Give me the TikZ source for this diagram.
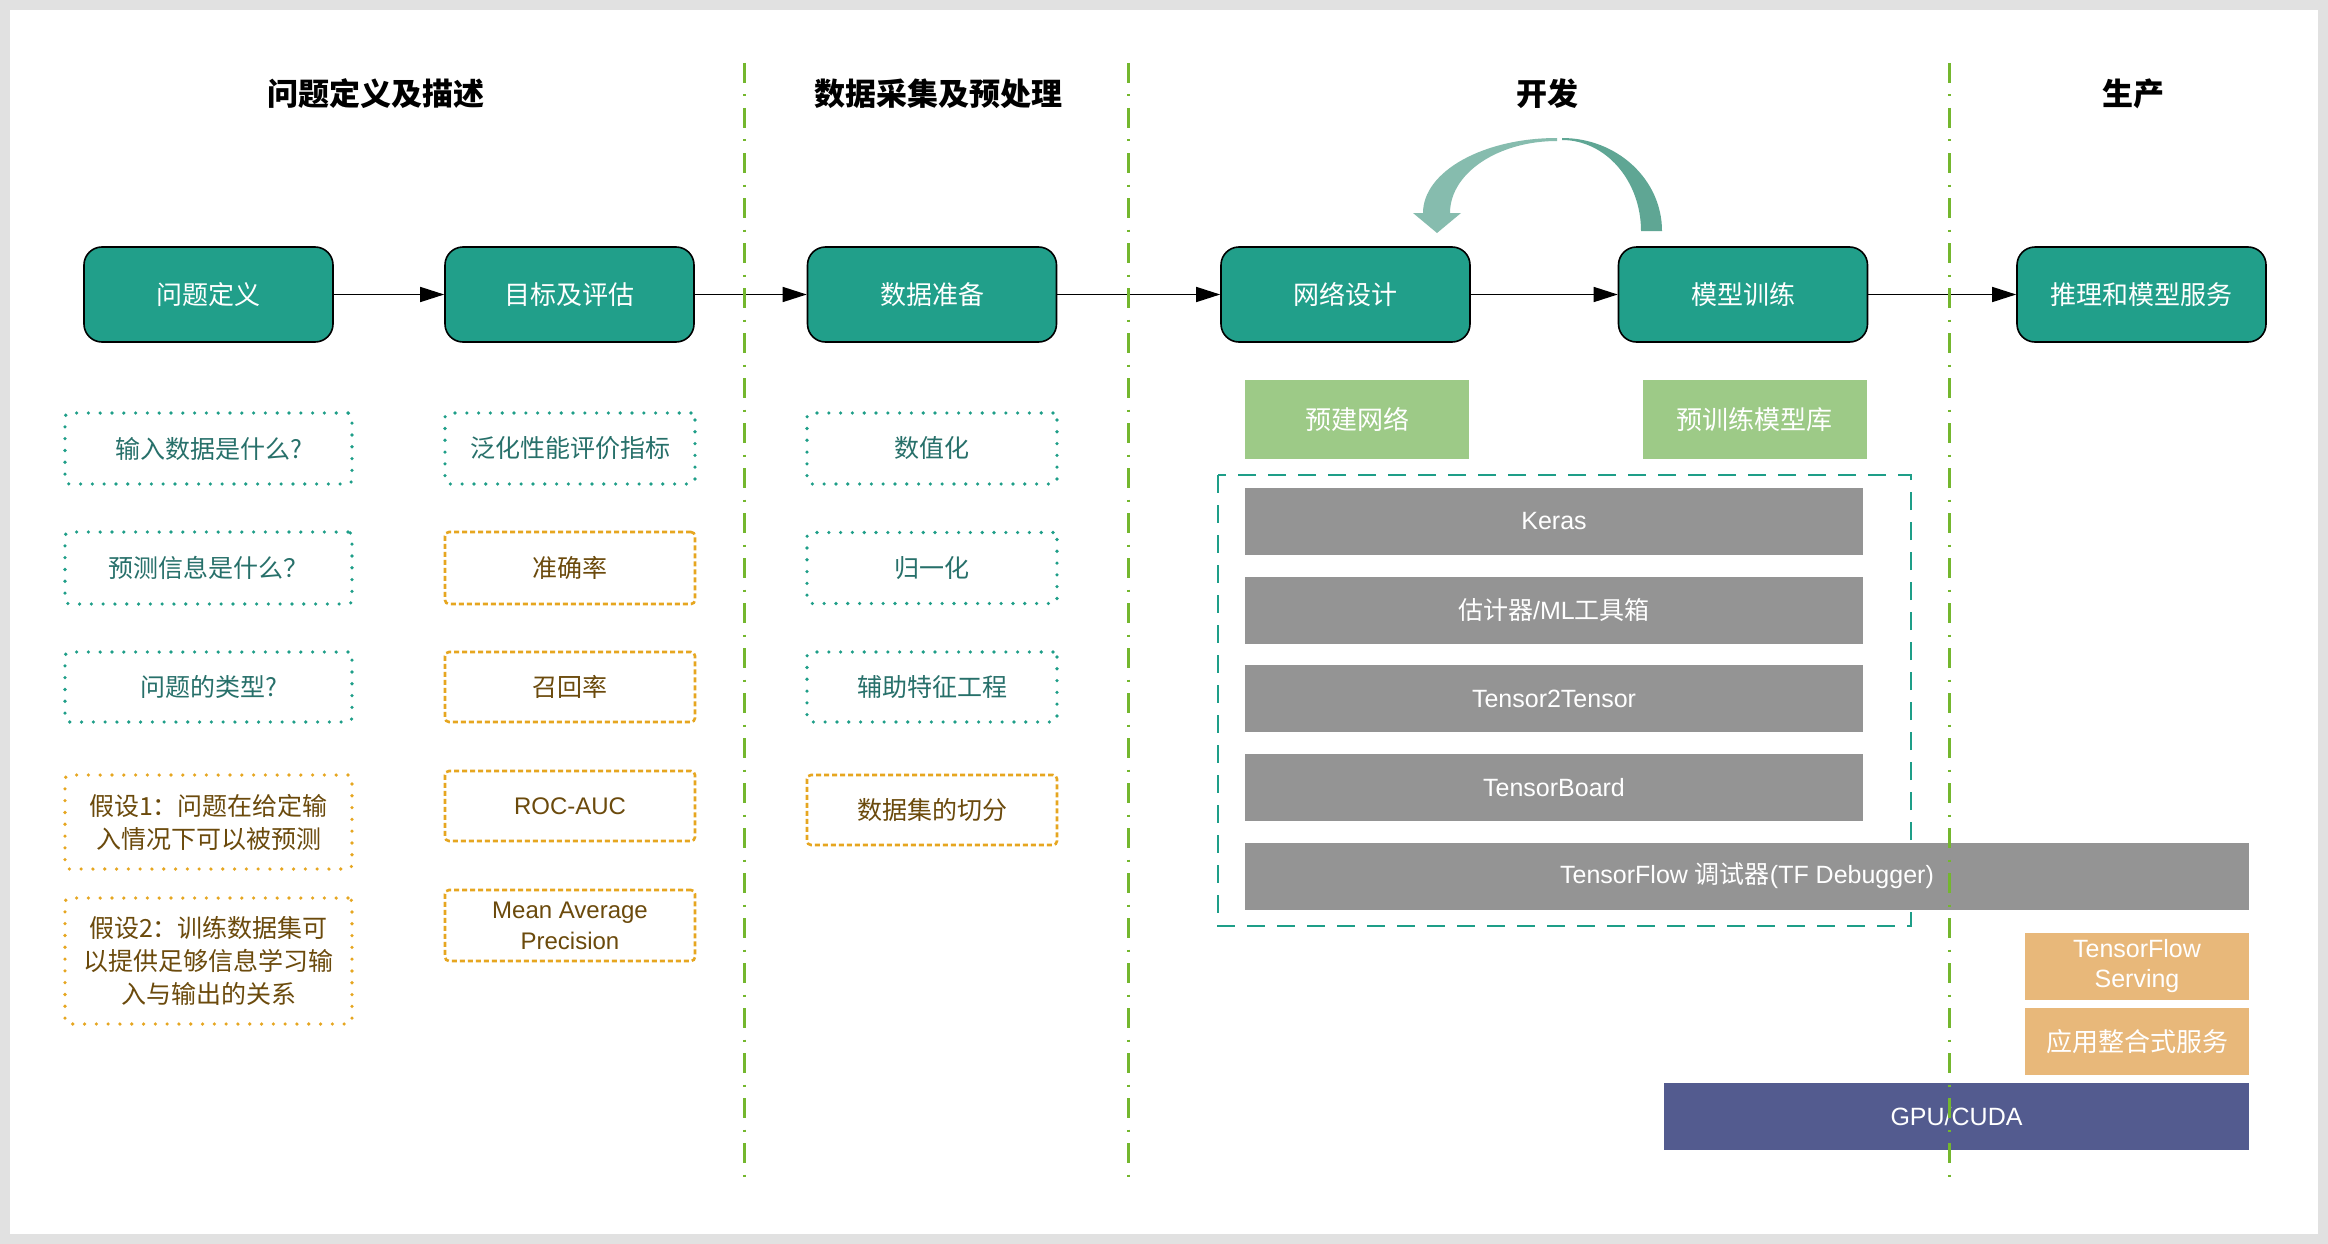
\documentclass[tikz,border=0pt]{standalone}
\usepackage{fontspec}
\setmainfont{Liberation Sans}
\newfontfamily\cjk{Noto Sans CJK SC}
\usetikzlibrary{arrows.meta}
\definecolor{framegray}{HTML}{E1E1E1}
\definecolor{tealfill}{HTML}{219F8A}
\definecolor{tealline}{HTML}{1E9E88}
\definecolor{tealtext}{HTML}{27706A}
\definecolor{orangeline}{HTML}{E6A620}
\definecolor{browntext}{HTML}{6B4A0C}
\definecolor{sepgreen}{HTML}{74B72E}
\definecolor{lightgreen}{HTML}{9DCA87}
\definecolor{bargray}{HTML}{949494}
\definecolor{lightorange}{HTML}{E8B87A}
\definecolor{navy}{HTML}{535B8F}
\definecolor{arrowlight}{HTML}{86BCAE}
\definecolor{arrowdark}{HTML}{5FA694}
\begin{document}
\begin{tikzpicture}[x=1pt,y=-1pt,
  cjkfont/.style={font=\cjk\fontsize{25}{33}\selectfont},
  title/.style={font=\cjk\bfseries\fontsize{31}{36}\selectfont, text=black},
  proc/.style={draw=black, line width=1.6pt, fill=tealfill, rounded corners=18pt,
    minimum width=249pt, minimum height=95pt, inner sep=0pt, text=white,
    font=\cjk\fontsize{26}{33}\selectfont},
  flow/.style={line width=1.5pt, -{Triangle[length=24pt,width=15pt]}},
  qbox/.style={draw=tealline, line width=3.6pt, dash pattern=on 0pt off 11.8pt, line cap=round,
    rounded corners=4pt, inner sep=0pt, text=tealtext, align=center, cjkfont},
  hbox/.style={draw=orangeline, line width=3.6pt, dash pattern=on 0pt off 11.8pt, line cap=round,
    rounded corners=4pt, inner sep=0pt, text=browntext, align=center, cjkfont},
  mbox/.style={draw=orangeline, line width=2.6pt, dash pattern=on 5pt off 3pt,
    rounded corners=4pt, inner sep=0pt, text=browntext, align=center, cjkfont},
  colA/.style={minimum width=287pt},
  colB/.style={minimum width=250pt},
  greenbox/.style={fill=lightgreen, inner sep=0pt, minimum width=224pt, minimum height=79pt,
    text=white, font=\cjk\fontsize{26}{33}\selectfont},
  bar/.style={fill=bargray, inner sep=0pt, minimum height=67pt, text=white,
    font=\fontsize{25}{30}\selectfont},
  obox/.style={fill=lightorange, inner sep=0pt, minimum width=224pt, minimum height=67pt,
    text=white, align=center, font=\fontsize{25}{30}\selectfont},
  sep/.style={draw=sepgreen, line width=3pt, dash pattern=on 20pt off 11.5pt on 2pt off 11.5pt}
]
% frame
\fill[framegray] (0,0) rectangle (2328,1244);
\fill[white] (10,10) rectangle (2318,1234);
\useasboundingbox (0,0) rectangle (2328,1244);

% titles
\node[title] (t1) at (376,94) {问题定义及描述};
\node[title] (t2) at (938,94) {数据采集及预处理};
\node[title] (t3) at (1547,94) {开发};
\node[title] (t4) at (2133,94) {生产};

% process boxes
\node[proc] (p1) at (208.5,294.5) {问题定义};
\node[proc] (p2) at (569.5,294.5) {目标及评估};
\node[proc] (p3) at (932,294.5) {数据准备};
\node[proc] (p4) at (1345.5,294.5) {网络设计};
\node[proc] (p5) at (1743,294.5) {模型训练};
\node[proc] (p6) at (2141.5,294.5) {推理和模型服务};
\draw[flow] (p1) -- (p2);
\draw[flow] (p2) -- (p3);
\draw[flow] (p3) -- (p4);
\draw[flow] (p4) -- (p5);
\draw[flow] (p5) -- (p6);

% curved loop arrow
\fill[arrowlight] (1557,138) .. controls (1483,138) and (1423,171.6) .. (1423,213)
  -- (1413,213) -- (1437,233) -- (1461,213) -- (1450,213)
  .. controls (1450,173.2) and (1497.9,141) .. (1557,141) -- cycle;
\fill[arrowdark] (1562,138) .. controls (1617.2,138) and (1662,179.6) .. (1662,231)
  -- (1641,231) .. controls (1641,180.7) and (1605.6,140) .. (1562,140) -- cycle;

% column 1
\node[qbox,colA,minimum height=71pt] (a1) at (208.5,448.5) {输入数据是什么?};
\node[qbox,colA,minimum height=72pt] (a2) at (208.5,568) {预测信息是什么？};
\node[qbox,colA,minimum height=70pt] (a3) at (208.5,687) {问题的类型?};
\node[hbox,colA,minimum height=94pt] (a4) at (208.5,822) {假设1：问题在给定输\\入情况下可以被预测};
\node[hbox,colA,minimum height=126pt] (a5) at (208.5,961) {假设2：训练数据集可\\以提供足够信息学习输\\入与输出的关系};

% column 2
\node[qbox,colB,minimum height=71pt] (b1) at (570,448.5) {泛化性能评价指标};
\node[mbox,colB,minimum height=72pt] (b2) at (570,568) {准确率};
\node[mbox,colB,minimum height=70pt] (b3) at (570,687) {召回率};
\node[mbox,colB,minimum height=70pt,font=\fontsize{24}{31}\selectfont] (b4) at (570,806) {ROC-AUC};
\node[mbox,colB,minimum height=71pt,font=\fontsize{24}{31}\selectfont] (b5) at (570,925.5) {Mean Average\\Precision};

% column 3
\node[qbox,colB,minimum height=71pt] (c1) at (932,448.5) {数值化};
\node[qbox,colB,minimum height=71pt] (c2) at (932,568) {归一化};
\node[qbox,colB,minimum height=70pt] (c3) at (932,687) {辅助特征工程};
\node[mbox,colB,minimum height=70pt] (c4) at (932,810) {数据集的切分};

% development area
\node[greenbox] (g1) at (1357,419.5) {预建网络};
\node[greenbox] (g2) at (1754.5,419.5) {预训练模型库};
\draw[tealline, line width=2.5pt, dash pattern=on 18pt off 12pt] (1218,475) rectangle (1911,926);
\node[bar,minimum width=618pt] (k1) at (1554,521) {Keras};
\node[bar,minimum width=618pt] (k2) at (1554,610) {{\cjk 估计器}/ML{\cjk 工具箱}};
\node[bar,minimum width=618pt] (k3) at (1554,698.5) {Tensor2Tensor};
\node[bar,minimum width=618pt] (k4) at (1554,787.5) {TensorBoard};
\node[bar,minimum width=1004pt] (k5) at (1747,876) {TensorFlow {\cjk 调试器}(TF Debugger)};
\node[obox] (s1) at (2137,966) {TensorFlow\\Serving};
\node[obox,font=\cjk\fontsize{26}{33}\selectfont] (s2) at (2137,1041.5) {应用整合式服务};
\node[fill=navy, inner sep=0pt, minimum width=585pt, minimum height=67pt, text=white,
  font=\fontsize{25}{30}\selectfont] (gpu) at (1956.5,1116.5) {GPU/CUDA};

% separators
\draw[sep] (744,63) -- (744,1177);
\draw[sep] (1128,63) -- (1128,1177);
\draw[sep] (1949,63) -- (1949,1177);
\end{tikzpicture}
\end{document}
